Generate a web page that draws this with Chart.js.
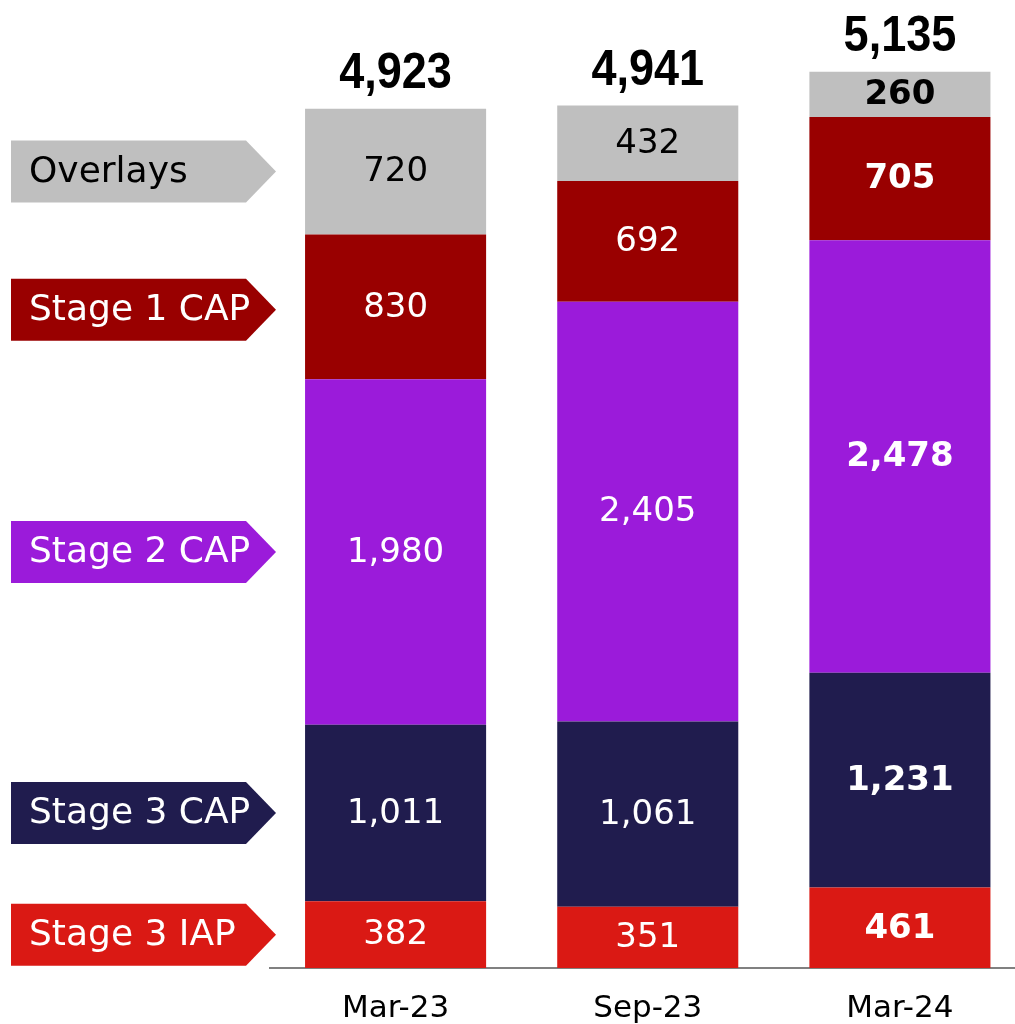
<!DOCTYPE html>
<html>
<head>
<meta charset="utf-8">
<script src="https://cdn.jsdelivr.net/npm/chart.js@4"></script>
<style>
  html, body { margin: 0; padding: 0; background: #fff; overflow: hidden; }
  #wrap { width: 1026px; height: 1024px; position: relative; }
</style>
</head>
<body>
<div id="wrap"><canvas id="chart"></canvas></div>
<script>
const categories = ['Mar-23', 'Sep-23', 'Mar-24'];
const stage3IAP = [382, 351, 461];
const stage3CAP = [1011, 1061, 1231];
const stage2CAP = [1980, 2405, 2478];
const stage1CAP = [830, 692, 705];
const overlays = [720, 432, 260];
const totals = [4923, 4941, 5135];

const seriesNames = ['Stage 3 IAP', 'Stage 3 CAP', 'Stage 2 CAP', 'Stage 1 CAP', 'Overlays'];
const seriesColors = ['#DA1914', '#201C4E', '#9B1BDA', '#990000', '#BFBFBF'];
const textColors = ['#fff', '#fff', '#fff', '#fff', '#000'];

const font = '"DejaVu Sans", sans-serif';

// value labels inside the segments, totals on top, arrow tags on the left
const labelsPlugin = {
  id: 'labels',
  afterDatasetsDraw(chart) {
    const ctx = chart.ctx;
    ctx.save();
    chart.data.datasets.forEach((ds, di) => {
      const meta = chart.getDatasetMeta(di);
      meta.data.forEach((bar, i) => {
        const cy = (bar.y + bar.base) / 2;
        ctx.fillStyle = textColors[di];
        ctx.font = (i === 2 ? 'bold ' : '') + '34px ' + font;
        ctx.textAlign = 'center';
        ctx.textBaseline = 'middle';
        ctx.fillText(ds.data[i].toLocaleString('en-US'), bar.x, cy + 1);
      });

      // tag on the left, lined up with the first bar
      const first = meta.data[0];
      const cy = (first.y + first.base) / 2 + (di === 3 ? 3 : 0);
      const h = 62, x0 = 11, x1 = 246, tip = 276;
      ctx.fillStyle = seriesColors[di];
      ctx.beginPath();
      ctx.moveTo(x0, cy - h / 2);
      ctx.lineTo(x1, cy - h / 2);
      ctx.lineTo(tip, cy);
      ctx.lineTo(x1, cy + h / 2);
      ctx.lineTo(x0, cy + h / 2);
      ctx.closePath();
      ctx.fill();
      ctx.fillStyle = textColors[di];
      ctx.font = '36px ' + font;
      ctx.textAlign = 'left';
      ctx.textBaseline = 'middle';
      ctx.fillText(seriesNames[di], 29, cy + 1);
    });

    // totals in a tall condensed face
    const topMeta = chart.getDatasetMeta(chart.data.datasets.length - 1);
    topMeta.data.forEach((bar, i) => {
      ctx.save();
      ctx.translate(bar.x, bar.y - 21);
      ctx.scale(0.9, 1);
      ctx.fillStyle = '#000';
      ctx.font = 'bold 50px "Liberation Sans Narrow", sans-serif';
      ctx.textAlign = 'center';
      ctx.textBaseline = 'alphabetic';
      ctx.fillText(totals[i].toLocaleString('en-US'), 0, 0);
      ctx.restore();
    });
    ctx.restore();
  }
};

const seriesValues = [stage3IAP, stage3CAP, stage2CAP, stage1CAP, overlays];

new Chart(document.getElementById('chart'), {
  type: 'bar',
  data: {
    labels: categories,
    datasets: seriesValues.map((vals, i) => ({
      label: seriesNames[i],
      data: vals,
      backgroundColor: seriesColors[i],
      borderWidth: 0,
      barPercentage: 0.718,
      categoryPercentage: 1
    }))
  },
  options: {
    responsive: true,
    maintainAspectRatio: false,
    animation: false,
    layout: { padding: { left: 269.5, top: 8, right: 0, bottom: 0 } },
    plugins: {
      legend: { display: false },
      tooltip: { enabled: false }
    },
    scales: {
      x: {
        stacked: true,
        grid: { display: false, drawTicks: false },
        border: { display: true, color: '#808080', width: 2 },
        ticks: {
          color: '#000',
          padding: 22,
          font: { family: font, size: 31 }
        },
        afterFit(scale) { scale.height = 56; }
      },
      y: {
        stacked: true,
        display: false,
        min: 0,
        max: 5500
      }
    }
  },
  plugins: [labelsPlugin]
});
</script>
</body>
</html>
